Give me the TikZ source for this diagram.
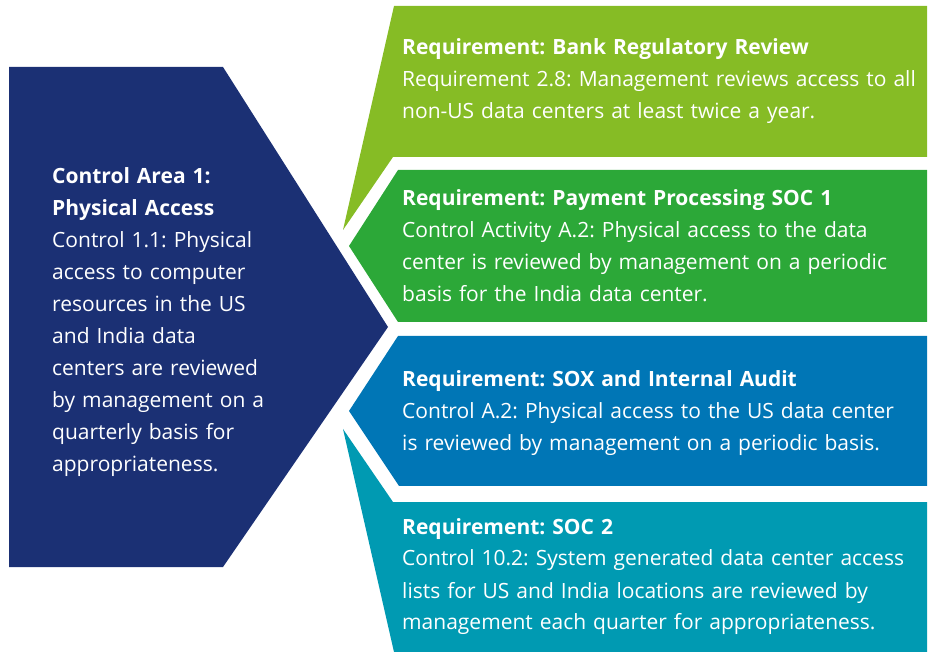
\documentclass[tikz,border=0pt]{standalone}
\usepackage{fontspec}
\setmainfont{Open Sans}
\frenchspacing
\definecolor{navyc}{RGB}{27,48,116}
\definecolor{limec}{RGB}{134,188,37}
\definecolor{greenc}{RGB}{44,168,56}
\definecolor{bluec}{RGB}{0,118,182}
\definecolor{tealc}{RGB}{0,154,178}
\tikzset{
  txt/.style={anchor=base west, inner sep=0pt, text=white, align=left,
    text width=540pt, font={\fontsize{21}{32}\selectfont\frenchspacing}},
}
\begin{document}
\begin{tikzpicture}[x=1pt,y=-1pt]
\useasboundingbox (0,0) rectangle (930,652);
% shapes
\fill[navyc] (9,67) -- (223,67) -- (388,327) -- (223,567) -- (9,567) -- cycle;
\fill[limec] (394,6) -- (927,6) -- (927,157) -- (393,157) -- (343,230) -- cycle;
\fill[greenc] (398,170) -- (927,170) -- (927,322) -- (398,322) -- (349,246) -- cycle;
\fill[bluec] (398,336) -- (927,336) -- (927,486) -- (399,486) -- (349,411) -- cycle;
\fill[tealc] (393,502) -- (927,502) -- (927,652) -- (394,652) -- (343,429) -- cycle;
% texts
\node[txt] (ctrl) at (52,184) {\textbf{Control Area 1:}\\\textbf{Physical Access}\\Control 1.1: Physical\\access to computer\\resources in the US\\and India data\\centers are reviewed\\by management on a\\quarterly basis for\\appropriateness.};
\node[txt] (bank) at (402,55) {\textbf{Requirement: Bank Regulatory Review}\\Requirement 2.8: Management reviews access to all\\non-US data centers at least twice a year.};
\node[txt] (pay) at (402,206) {\textbf{Requirement: Payment Processing SOC 1}\\Control Activity A.2: Physical access to the data\\center is reviewed by management on a periodic\\basis for the India data center.};
\node[txt] (sox) at (402,387) {\textbf{Requirement: SOX and Internal Audit}\\Control A.2: Physical access to the US data center\\is reviewed by management on a periodic basis.};
\node[txt] (soc) at (402,534) {\textbf{Requirement: SOC 2}\\Control 10.2: System generated data center access\\lists for US and India locations are reviewed by\\management each quarter for appropriateness.};
\end{tikzpicture}
\end{document}
